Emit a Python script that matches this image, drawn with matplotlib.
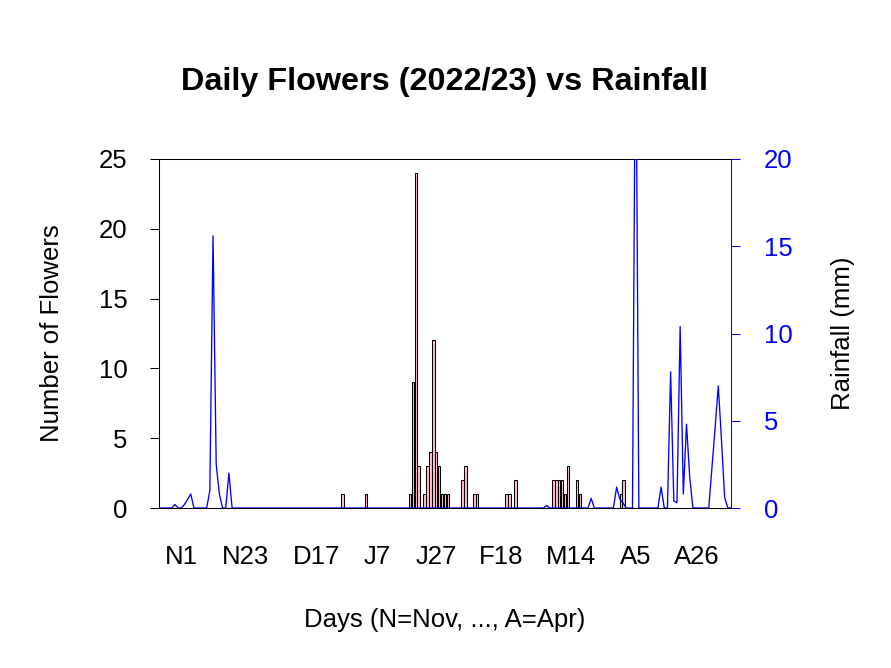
import matplotlib
matplotlib.use("Agg")
import matplotlib.pyplot as plt
import numpy as np

# ---- data (day index 0 = 1 Nov 2022, 180 = 30 Apr 2023) ----
n_days = 181
flower_days = [55, 63, 78, 79, 80, 81, 83, 84, 85, 86, 87, 88, 89, 90, 91,
               96, 97, 100, 101, 111, 112, 114,
               127, 128, 129, 130, 131, 132, 135, 136, 150, 151]
flower_counts = [1, 1, 1, 9, 24, 3, 1, 3, 4, 12, 4, 3, 1, 1, 1,
                 2, 3, 1, 1, 1, 1, 2,
                 2, 2, 2, 2, 1, 3, 2, 1, 1, 2]

rain_days = [5, 8, 9, 10, 16, 17, 18, 19, 22, 122, 136, 144, 145, 146, 150,
             158, 161, 162, 163, 164, 165, 166, 167, 174, 175, 176, 177, 178]
rain_mm = [0.2, 0.2, 0.5, 0.8, 1.0, 15.6, 2.5, 0.8, 2.0, 0.15, 0.55, 1.2, 0.5, 0.3, 30.0,
           1.2, 7.8, 0.4, 0.3, 10.4, 0.8, 4.8, 1.8, 2.3, 4.6, 7.0, 3.9, 0.6]

tick_days = [0, 22, 46, 67, 87, 109, 133, 155, 176]
tick_labels = ["N1", "N23", "D17", "J7", "J27", "F18", "M14", "A5", "A26"]
left_ticks = [0, 5, 10, 15, 20, 25]
right_ticks = [0, 5, 10, 15, 20]

flowers = np.zeros(n_days)
flowers[flower_days] = flower_counts
rain = np.zeros(n_days)
rain[rain_days] = rain_mm
days = np.arange(n_days)

plt.rcParams["font.family"] = ["Liberation Sans", "DejaVu Sans"]
FS = 18.5
BLUE = "#0000FF"

W, H = 891, 668
fig = plt.figure(figsize=(W / 100, H / 100), dpi=100)
L, R, T, B = 159, 731, 159, 508
pos = [L / W, (H - B) / H, (R - L) / W, (B - T) / H]

ax = fig.add_axes(pos)
ax.bar(days, flowers, width=1 / 1.2, color="#FFC0CB", edgecolor="black", linewidth=0.75)
ax.set_xlim(-7.65, 187.64)
ax.set_ylim(0, 25)
ax.set_yticks(left_ticks)
ax.tick_params(axis="y", length=6.5, width=0.75, pad=16, labelsize=FS)
ax.set_xticks(tick_days, tick_labels)
ax.tick_params(axis="x", length=0, pad=26.5, labelsize=FS)
for s in ["top", "bottom", "left"]:
    ax.spines[s].set_linewidth(0.75)
ax.spines["right"].set_visible(False)

ax2 = fig.add_axes(pos)
ax2.patch.set_visible(False)
ax2.plot(days, rain, color=BLUE, linewidth=0.95)
ax2.set_xlim(0, n_days - 1)
ax2.set_ylim(0, 20)
ax2.set_xticks([])
ax2.yaxis.tick_right()
ax2.set_yticks(right_ticks)
ax2.tick_params(axis="y", colors=BLUE, length=6.5, width=0.75, pad=17, labelsize=FS)
for s in ["top", "bottom", "left"]:
    ax2.spines[s].set_visible(False)
ax2.spines["right"].set_color(BLUE)
ax2.spines["right"].set_linewidth(0.75)

fig.text(444.5 / W, 1 - 82 / H, "Daily Flowers (2022/23) vs Rainfall",
         ha="center", va="center", fontsize=23.3, fontweight="bold")
fig.text(52 / W, 1 - 333.5 / H, "Number of Flowers", rotation=90,
         ha="center", va="center", fontsize=FS)
fig.text(843 / W, 1 - 333.5 / H, "Rainfall (mm)", rotation=90,
         ha="center", va="center", fontsize=FS)
fig.text(445 / W, 1 - 620 / H, "Days (N=Nov, ..., A=Apr)",
         ha="center", va="center", fontsize=FS)

fig.savefig("out.png", dpi=100, facecolor="white")
